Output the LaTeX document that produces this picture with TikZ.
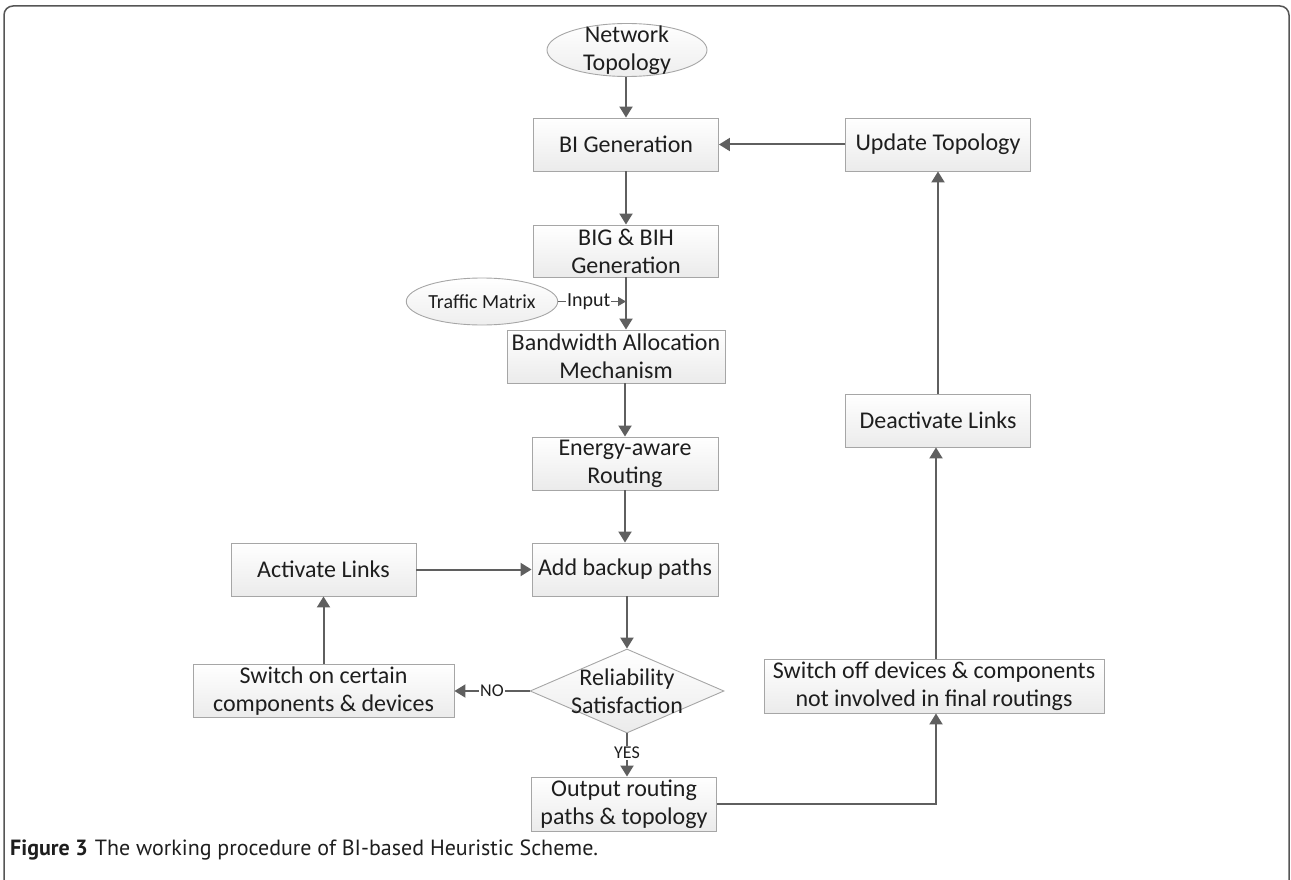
\documentclass[tikz,border=0pt]{standalone}
\usepackage{fontspec}
\setmainfont{Carlito}
\newfontfamily\capfont{PT Sans}
\usetikzlibrary{shapes.geometric,arrows.meta,calc}
\definecolor{boxline}{HTML}{A6A6A6}
\definecolor{boxbot}{HTML}{EBEBEB}
\definecolor{arr}{HTML}{5F5F5F}
\definecolor{txt}{HTML}{1E1E1E}
\definecolor{frame}{HTML}{555555}
\definecolor{ellfill}{HTML}{EEEEEE}
\newcommand{\boxfont}{\fontsize{24}{28}\selectfont}
\newcommand{\smallfont}{\fontsize{20}{24}\selectfont}
\newcommand{\tinyfont}{\fontsize{18}{22}\selectfont}
\newcommand{\captionfont}{\capfont\fontsize{22}{26}\selectfont}
\tikzset{
  pbox/.style={draw=boxline, line width=0.9pt, top color=white, bottom color=boxbot,
    minimum height=53, inner sep=0pt, align=center, font=\boxfont, text=txt},
  pell/.style={draw=boxline, line width=0.9pt, ellipse, top color=white, bottom color=ellfill, inner sep=0pt},
  pdia/.style={draw=boxline, line width=0.9pt, diamond, top color=white, bottom color=boxbot, inner sep=0pt},
  parr/.style={draw=arr, line width=2pt, -{Triangle[length=11pt,width=13pt]}},
  sarr/.style={draw=arr, line width=1.5pt, -{Triangle[length=8pt,width=9pt]}},
  lab/.style={fill=white, inner sep=1pt, text=txt},
}
\begin{document}
\begin{tikzpicture}[x=1pt,y=-1pt]
\useasboundingbox (0,0) rectangle (1291,880);
% outer frame
\draw[frame, line width=1.5pt, rounded corners=9pt] (4,905) -- (4,6) -- (1289,6) -- (1289,905);

% nodes
\node[pell, minimum width=160, minimum height=53,
  label={[font=\boxfont, align=center, text=txt]center:Network\\Topology}] (nt) at (627,50) {};
\node[pbox, minimum width=185] (bi) at (626,144.5) {BI Generation};
\node[pbox, minimum width=185] (upd) at (938,144.5) {Update Topology};
\node[pbox, minimum width=185, minimum height=52] (big) at (626,251) {BIG \& BIH\\Generation};
\node[pell, minimum width=142, minimum height=47, font=\smallfont, text=txt] (tm) at (482,301.5) {Traffic Matrix};
\node[pbox, minimum width=218] (bw) at (616,356.5) {Bandwidth Allocation\\Mechanism};
\node[pbox, minimum width=186] (en) at (625,463.5) {Energy-aware\\Routing};
\node[pbox, minimum width=186] (ab) at (625,569.5) {Add backup paths};
\node[pbox, minimum width=185] (al) at (323.5,569.5) {Activate Links};
\node[pdia, minimum width=194, minimum height=84,
  label={[font=\boxfont, align=center, text=txt]center:Reliability\\Satisfaction}] (d) at (627,691) {};
\node[pbox, minimum width=261] (sw) at (323.5,691) {Switch on certain\\components \& devices};
\node[pbox, minimum width=185, minimum height=54] (out) at (624,804) {Output routing\\paths \& topology};
\node[pbox, minimum width=340, minimum height=54] (so) at (934,686) {Switch off devices \& components\\not involved in final routings};
\node[pbox, minimum width=185] (dl) at (938,420.5) {Deactivate Links};

% connectors
\draw[parr] (nt.south -| bi.north) -- (bi.north);
\draw[parr] (bi) -- (big);
\draw[parr] (big.south) -- (big.south |- bw.north);
\draw[sarr] (tm.east) -- (tm.east -| big.south) node[pos=0.45, lab, font=\smallfont] {Input};
\draw[parr] (en.north |- bw.south) -- (en.north);
\draw[parr] (en) -- (ab);
\draw[parr] (ab.south -| d.north) -- (d.north);
\draw[parr] (d.west) -- (sw.east) node[pos=0.5, lab, font=\tinyfont] {NO};
\draw[parr] (sw) -- (al);
\draw[parr] (al) -- (ab);
\draw[parr] (d.south) -- (d.south |- out.north) node[pos=0.45, lab, font=\tinyfont] {YES};
\draw[parr] (out.east) -| ([xshift=2pt]so.south);
\draw[parr] ([xshift=2pt]so.north) -- ([xshift=2pt]so.north |- dl.south);
\draw[parr] (dl) -- (upd);
\draw[parr] (upd) -- (bi);

% caption
\node[anchor=base west, inner sep=0pt, text=txt] (cap) at (10,855)
  {\captionfont\textbf{Figure 3}\hspace{7pt}The working procedure of BI-based Heuristic Scheme.};
\end{tikzpicture}
\end{document}
